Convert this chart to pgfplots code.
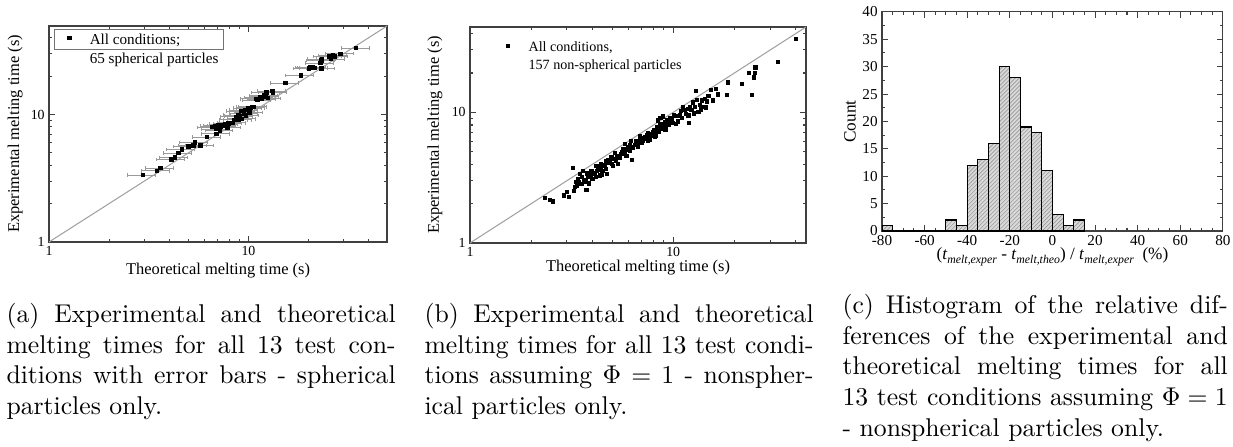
\documentclass[border=0pt]{standalone}
\usepackage{pgfplots}
\pgfplotsset{compat=1.18}
\usepackage{fontspec}
\usetikzlibrary{patterns.meta}
\newfontfamily\timesf{Liberation Serif}
\hyphenation{non-spher-ical}

\pgfplotsset{
  panel/.style={
    scale only axis,
    axis line style={black!75, line width=0.45pt},
    tick style={black!75, line width=0.4pt},
    major tick length=2.2pt,
    minor tick length=1.3pt,
    /pgf/number format/assume math mode=true,
    tick label style={font=\timesf\fontsize{5.4}{6}\selectfont, inner sep=1.5pt},
    label style={font=\timesf\fontsize{6.4}{7}\selectfont},
  },
  logpanel/.style={
    panel,
    xtick={1,10}, xticklabels={1,10},
    ytick={1,10}, yticklabels={1,10},
    minor xtick={2,3,...,9,20,30,40},
    minor ytick={2,3,...,9,20,30,40},
    xlabel={Theoretical melting time (s)},
    ylabel={Experimental melting time (s)},
  },
  sqlegend/.style={
    legend image code/.code={
      \draw[##1] plot coordinates {(4.8pt,0.55ex)};
      \path[draw=none, fill=none] (0pt,0pt) rectangle (11.9pt,0.1pt);},
  },
}

\begin{document}
\begin{tikzpicture}[x=0.38929pt, y=0.38929pt]
\useasboundingbox (0,0) rectangle (1233,446);
\coordinate (pa) at (49,204);
\coordinate (pb) at (470,203);
\coordinate (pc) at (882,215);

% ---------- (a) spherical particles, with error bars
\begin{loglogaxis}[logpanel,
  at={(pa)}, anchor=south west,
  width=131.6pt, height=84.1pt,
  xmin=1, xmax=49.5, ymin=1, ymax=49.5,
  xlabel style={at={(axis description cs:0.5,-0.134)}, anchor=center},
  ylabel style={at={(axis description cs:-0.100,0.5)}, anchor=center},
  legend style={at={(axis description cs:0.015,0.986)}, anchor=north west,
    draw=black!55, line width=0.4pt, inner xsep=1pt, inner ysep=0.5pt,
    nodes={inner xsep=0.8pt, inner ysep=0pt},
    font=\timesf\fontsize{5.9}{7.4}\selectfont,
    cells={anchor=base west}},
]
\addplot[gray!75, line width=0.4pt, forget plot] coordinates {(1,1) (49.5,49.5)};
\addplot[only marks, mark=square*, mark size=0.65pt, black, sqlegend,
  error bars/.cd, x dir=both, x fixed relative=0.16,
  error bar style={gray!80, line width=0.3pt},
  error mark options={gray!80, mark size=0.7pt, line width=0.3pt, rotate=90}]
  table {
x y
2.95 3.35
3.47 3.62
3.62 3.80
4.12 4.45
4.28 4.61
4.45 4.99
4.64 5.33
5.00 5.60
5.31 5.73
5.39 6.02
5.75 5.70
6.20 6.63
6.60 7.94
6.80 8.10
6.90 7.70
6.90 7.05
7.05 8.20
7.20 7.50
7.30 8.05
7.40 8.20
7.60 8.40
7.85 7.90
7.95 8.50
8.30 8.60
8.50 9.10
8.65 9.60
8.90 9.90
8.95 9.10
9.00 9.70
9.20 10.6
9.30 9.25
9.50 10.2
9.60 10.8
9.70 9.80
10.0 11.2
10.1 10.4
10.3 11.3
10.4 11.4
10.6 11.5
10.9 13.3
11.1 13.0
11.4 13.6
11.7 13.2
12.0 14.1
12.2 13.8
12.3 14.9
12.5 13.4
13.2 15.3
13.3 14.9
15.3 17.6
18.3 20.3
20.1 22.9
20.5 23.4
20.9 23.4
21.5 23.2
23.0 25.4
23.2 26.6
23.2 22.9
23.4 27.2
25.3 28.6
26.0 27.2
26.6 29.0
27.1 28.6
28.9 30.0
34.7 33.2
};
\addlegendentry{\begin{tabular}[t]{@{}l@{}}All conditions;\\65 spherical particles\end{tabular}}
\end{loglogaxis}

% ---------- (b) non-spherical particles
\begin{loglogaxis}[logpanel,
  at={(pb)}, anchor=south west,
  width=130.8pt, height=84.1pt,
  xmin=1, xmax=45, ymin=1, ymax=45,
  xlabel style={at={(axis description cs:0.5,-0.112)}, anchor=center},
  ylabel style={at={(axis description cs:-0.104,0.5)}, anchor=center},
  legend style={at={(axis description cs:0.068,0.951)}, anchor=north west,
    draw=none, fill=none, inner xsep=1pt, inner ysep=0.5pt,
    nodes={inner xsep=0.8pt, inner ysep=0pt},
    font=\timesf\fontsize{5.5}{6.9}\selectfont,
    cells={anchor=base west}},
]
\addplot[gray!75, line width=0.4pt, forget plot] coordinates {(1,1) (45,45)};
\addplot[only marks, mark=square*, mark size=0.62pt, black, sqlegend] table {
x y
2.34 2.21
2.47 2.12
2.57 2.08
2.91 2.31
2.99 2.45
3.08 2.25
3.22 3.74
3.24 2.50
3.30 2.70
3.31 2.92
3.37 2.75
3.41 3.10
3.45 2.95
3.47 3.38
3.54 2.84
3.55 3.20
3.61 3.58
3.63 3.01
3.70 3.05
3.71 2.92
3.74 2.55
3.75 3.40
3.82 3.19
3.85 2.85
3.89 3.28
3.95 3.25
3.96 3.55
4.01 3.10
4.05 3.45
4.11 3.38
4.15 3.20
4.16 3.91
4.20 3.58
4.25 3.90
4.27 3.73
4.35 3.60
4.36 3.28
4.39 3.81
4.43 4.03
4.45 3.35
4.52 3.55
4.55 3.95
4.60 3.91
4.65 3.70
4.66 4.27
4.73 3.38
4.75 4.10
4.78 4.33
4.87 4.08
4.90 4.20
4.97 4.53
5.00 4.00
5.06 3.91
5.10 4.40
5.17 4.86
5.22 4.23
5.30 4.60
5.35 4.03
5.45 4.50
5.56 4.81
5.60 5.00
5.67 5.25
5.75 4.90
5.78 5.72
5.89 4.66
5.95 5.20
6.00 5.40
6.10 5.60
6.12 5.04
6.20 6.07
6.25 4.33
6.30 5.30
6.36 5.40
6.48 5.63
6.55 5.80
6.60 6.07
6.70 5.47
6.75 5.90
6.85 6.63
6.90 6.20
6.97 6.32
7.05 5.80
7.10 6.07
7.26 6.44
7.30 6.30
7.40 6.70
7.50 6.90
7.54 6.07
7.68 6.51
7.70 6.20
7.80 6.83
7.90 6.60
7.98 7.04
8.05 7.30
8.13 6.44
8.20 6.63
8.30 7.66
8.35 7.10
8.43 8.65
8.50 7.04
8.55 7.60
8.60 8.14
8.66 9.05
8.78 7.45
8.80 8.10
8.90 9.30
9.00 7.92
9.10 8.40
9.15 7.30
9.25 7.66
9.30 8.72
9.40 8.23
9.50 8.00
9.60 9.05
9.70 8.90
9.85 8.65
10.0 8.30
10.1 9.44
10.3 8.14
10.4 9.40
10.6 8.50
10.8 9.44
10.9 10.2
11.0 9.00
11.2 10.9
11.4 10.4
11.6 9.77
11.8 10.6
11.9 9.44
12.0 8.23
12.1 11.0
12.3 10.4
12.5 11.9
12.6 9.80
12.8 11.0
12.9 14.5
13.1 12.4
13.3 10.0
13.5 11.4
13.7 10.5
13.8 12.3
14.0 11.0
14.3 12.6
14.5 10.9
14.7 12.1
14.9 13.4
15.4 14.8
15.7 12.3
16.2 15.1
16.6 13.7
18.4 13.6
18.6 16.9
21.8 16.4
23.6 19.9
24.4 13.6
24.9 18.5
25.2 20.1
25.4 22.0
32.7 24.3
40.2 36.3
};
\addlegendentry{\begin{tabular}[t]{@{}l@{}}All conditions,\\157 non-spherical particles\end{tabular}}
\end{loglogaxis}

% ---------- (c) histogram of relative differences
\begin{axis}[panel,
  at={(pc)}, anchor=south west,
  width=132.7pt, height=85.3pt,
  xmin=-80, xmax=80, ymin=0, ymax=40,
  xtick={-80,-60,...,80}, ytick={0,5,...,40},
  minor x tick num=3, minor y tick num=1,
  tick label style={font=\timesf\fontsize{5.9}{7}\selectfont},
  xlabel={(\textit{t}\raisebox{-0.45ex}{\fontsize{4.6}{5}\selectfont\textit{melt,exper}} - \textit{t}\raisebox{-0.45ex}{\fontsize{4.6}{5}\selectfont\textit{melt,theo}}) / \textit{t}\raisebox{-0.45ex}{\fontsize{4.6}{5}\selectfont\textit{melt,exper}}\ \ (\%)},
  ylabel={Count},
  label style={font=\timesf\fontsize{6.7}{8}\selectfont},
  xlabel style={at={(axis description cs:0.5,-0.132)}, anchor=base},
  ylabel style={at={(axis description cs:-0.094,0.5)}, anchor=center},
]
\addplot[ybar interval, draw=black, line width=0.45pt, fill=gray!30,
  postaction={pattern={Lines[angle=45, distance=1.1pt, line width=0.25pt]}, pattern color=gray!80}]
  coordinates {
  (-80,1) (-75,0) (-50,2) (-45,1) (-40,12) (-35,13) (-30,16) (-25,30)
  (-20,28) (-15,19) (-10,18) (-5,11) (0,3) (5,1) (10,2) (15,0)
};
\end{axis}

% ---------- captions
\node[anchor=north west, inner sep=0pt, text width=151.5pt, align=justify,
  font=\fontsize{10}{12}\selectfont] at (6,143.5)
  {(a) Experimental and theoretical melting times for all 13 test conditions with error bars - spherical particles only.};
\node[anchor=north west, inner sep=0pt, text width=151.5pt, align=justify,
  font=\fontsize{10}{12}\selectfont] at (424,143.5)
  {(b) Experimental and theoretical melting times for all 13 test conditions assuming $\Phi = 1$ - nonspherical particles only.};
\node[anchor=north west, inner sep=0pt, text width=150pt, align=justify,
  font=\fontsize{10}{12}\selectfont] at (842,152.5)
  {(c) Histogram of the relative differences of the experimental and theoretical melting times for all\linebreak 13 test conditions assuming $\Phi = 1$\linebreak - nonspherical particles only.};
\end{tikzpicture}
\end{document}
